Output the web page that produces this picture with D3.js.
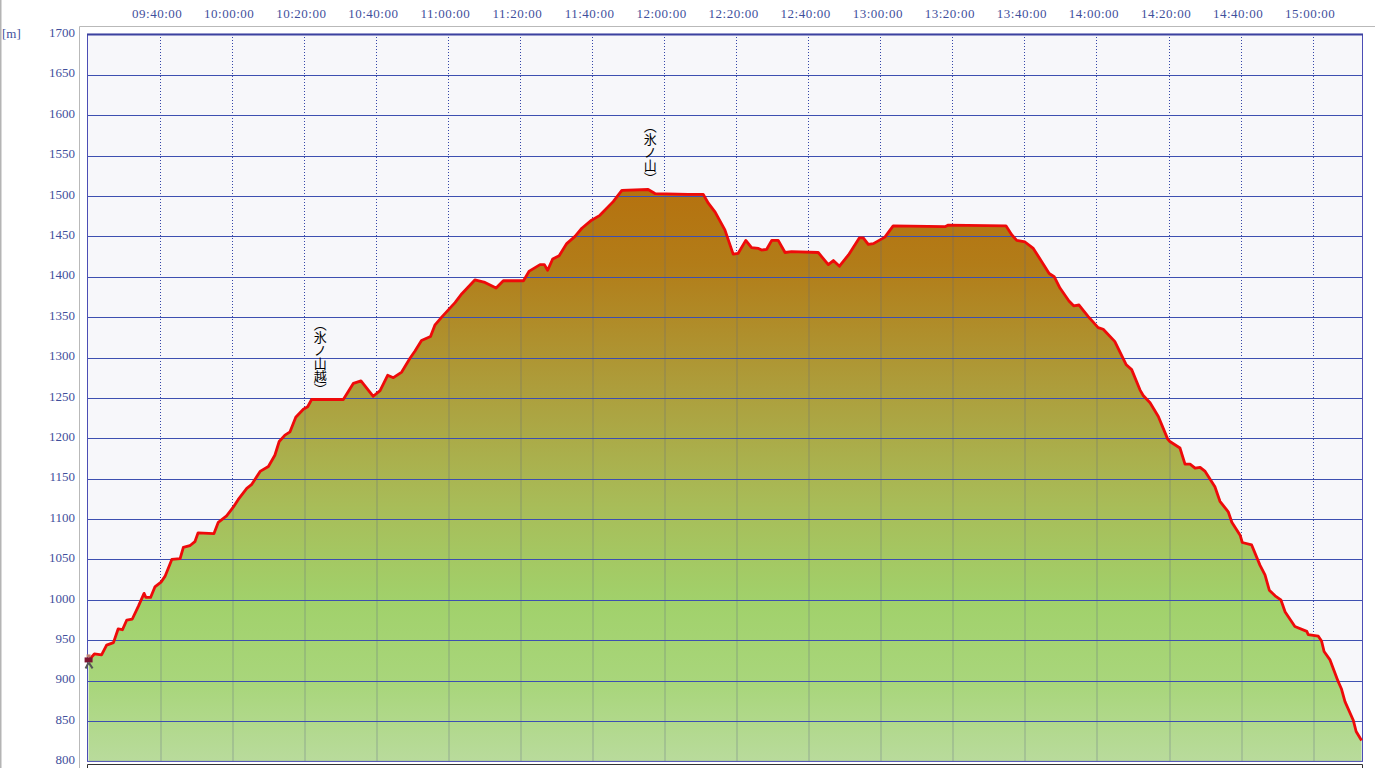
<!DOCTYPE html>
<html lang="ja">
<head>
<meta charset="utf-8">
<title>elevation profile</title>
<script src="https://cdn.jsdelivr.net/npm/d3@7"></script>
<style>
  html, body { margin: 0; padding: 0; background: #fff; overflow: hidden; }
  text { font-family: "Liberation Serif", serif; }
  .tick text, .unit { fill: #3f4f9c; font-family: "Liberation Serif", serif; font-size: 13px; }
  .xlabels .tick text { letter-spacing: 0.5px; }
  .peak { font-family: "Noto Sans CJK JP", sans-serif; font-size: 13px; fill: #000; writing-mode: vertical-rl; }
</style>
</head>
<body>
<div id="wrapper"></div>
<script>
// 1. data: minutes after 09:20:00 and metres
const minutes = [
  0, 1.6, 3.6, 5, 6.9, 8.2, 9.4, 10.6, 12.1, 13.8, 15.4, 15.9, 17.2, 18.4, 20.1, 21.2, 23.1, 25.4, 26.3, 28.1,
  29.5, 30.4, 34.8, 36, 38.3, 40.2, 41.5, 43.9, 45.3, 47.6, 49.9, 51.7, 52.9, 54.5, 55.9, 57.5, 59.6, 60.8, 61.9, 70.7,
  73.5, 75.6, 79, 80.9, 83, 84.6, 86.9, 89.2, 90.6, 92.4, 94.9, 96.1, 98, 101.7, 103.6, 107.2, 110, 113.1, 115.1, 120.7,
  122.3, 125.3, 126.5, 127.4, 128.8, 130.6, 132.7, 135, 136.9, 139.6, 141.9, 145.6, 148, 155.3, 157.2, 166.4, 170.6, 172, 173.9, 176.6,
  178.9, 180.3, 182.4, 184, 185.9, 186.8, 188.2, 189.6, 191.4, 193.3, 195.1, 202.5, 205.3, 206.7, 208.4, 210.9, 213.9, 215, 216.4, 217.8,
  221, 223.3, 237.7, 238.6, 254.6, 256.2, 257.6, 259.9, 262.2, 264.5, 266.6, 268, 269.6, 272.1, 273.4, 274.9, 277.4, 280.2, 281.6, 284.8,
  288, 289.5, 291.8, 292.7, 294.6, 296.9, 299.5, 300.1, 302.9, 304.3, 305.7, 307.1, 308.5, 309.9, 312.6, 314, 316.3, 317.3, 319.6, 320.2,
  322.8, 325.1, 326.5, 327.7, 329.3, 330.9, 332.1, 334.8, 338.1, 338.5, 341.3, 342.2, 342.9, 344.5, 346.8, 347.7, 348.7, 351, 351.8, 353.3
]
const elevation = [
  925, 933, 932, 944, 947, 964, 963, 975, 976, 992, 1008, 1003, 1003, 1016, 1022, 1029, 1050, 1051, 1065, 1067,
  1072, 1083, 1082, 1096, 1104, 1115, 1124, 1138, 1143, 1159, 1165, 1179, 1196, 1204, 1208, 1226, 1236, 1239, 1248, 1248,
  1268, 1271, 1252, 1259, 1278, 1275, 1282, 1299, 1308, 1321, 1326, 1340, 1350, 1368, 1379, 1396, 1393, 1386, 1395, 1395,
  1407, 1415, 1415, 1408, 1422, 1426, 1441, 1450, 1460, 1470, 1476, 1493, 1507, 1508, 1503, 1502, 1502, 1491, 1480, 1458,
  1428, 1429, 1445, 1436, 1435, 1433, 1434, 1445, 1445, 1430, 1431, 1430, 1415, 1420, 1413, 1427, 1448, 1448, 1440, 1441,
  1449, 1463, 1462, 1464, 1463, 1452, 1445, 1443, 1435, 1419, 1404, 1400, 1386, 1370, 1364, 1365, 1351, 1337, 1335, 1320,
  1291, 1285, 1260, 1253, 1244, 1227, 1199, 1196, 1188, 1168, 1168, 1163, 1164, 1159, 1140, 1122, 1109, 1096, 1080, 1071,
  1068, 1043, 1031, 1012, 1005, 1000, 985, 967, 961, 957, 955, 949, 936, 926, 899, 890, 874, 851, 837, 826
]
const timeTicks = ["09:40:00","10:00:00","10:20:00","10:40:00","11:00:00","11:20:00","11:40:00","12:00:00",
  "12:20:00","12:40:00","13:00:00","13:20:00","13:40:00","14:00:00","14:20:00","14:40:00","15:00:00"]
const heightTicks = [800,850,900,950,1000,1050,1100,1150,1200,1250,1300,1350,1400,1450,1500,1550,1600,1650,1700]
const peakNames = ["（氷ノ山越）", "（氷ノ山）"]
const peakMinutes = [64.3, 155.9]
const peakHeights = [1248, 1508]
const peakOffsets = [82, 70]

const points = minutes.map((m, i) => ({ m: m, h: elevation[i] }))
const sinceStart = t => {
  const p = t.split(":").map(Number)
  return (p[0] - 9) * 60 + p[1] - 20
}

// 2. dimensions
const width = 1389
const height = 768
const plot = { left: 87, right: 1363, top: 34.4, bottom: 761.4 }

const svg = d3.select("#wrapper").append("svg")
  .attr("width", width)
  .attr("height", height)
  .style("display", "block")

// 3. scales
const x = d3.scaleLinear().domain([-0.44, 353.7]).range([plot.left, plot.right])
const y = d3.scaleLinear().domain([800, 1700]).range([plot.bottom, plot.top])
const gridX = d => Math.round(x(sinceStart(d))) - 0.5

// window frame bits
svg.append("rect").attr("x", 0).attr("y", 0).attr("width", 1.5).attr("height", height).attr("fill", "#b4b4b4")
svg.append("path").attr("d", `M79.5,${height}V26.5H1375`).attr("fill", "none").attr("stroke", "#b9b9b9")
svg.append("rect").attr("x", plot.left).attr("y", plot.top).attr("width", plot.right - plot.left)
  .attr("height", plot.bottom - plot.top).attr("fill", "#f7f7fa")
svg.append("path").attr("d", `M87.5,${height}V764.5H1362.5V${height}`).attr("fill", "none").attr("stroke", "#333")

// 4. filled profile
const grad = svg.append("defs").append("linearGradient")
  .attr("id", "fill").attr("gradientUnits", "userSpaceOnUse")
  .attr("x1", 0).attr("x2", 0).attr("y1", y(1508)).attr("y2", plot.bottom)
const stops = [[0, "#b5720f"], [0.13, "#b27c18"], [0.35, "#ad9e3c"], [0.55, "#a8bc58"], [0.72, "#a1d16b"], [0.87, "#a9d67c"], [1, "#b9db9c"]]
stops.forEach(s => grad.append("stop").attr("offset", s[0]).attr("stop-color", s[1]))

const area = d3.area().x(d => x(d.m)).y0(plot.bottom).y1(d => y(d.h))
const sky = d3.area().x(d => x(d.m)).y0(plot.top).y1(d => y(d.h))
const line = d3.line().x(d => x(d.m)).y(d => y(d.h))

svg.append("path").datum(points).attr("d", area).attr("fill", "url(#fill)")

svg.append("clipPath").attr("id", "under").append("path").datum(points).attr("d", area)
svg.append("clipPath").attr("id", "over").append("path").datum(points).attr("d", sky)

// 5. grid: dotted over the background, a soft grey band inside the fill
const grid = svg.append("g").attr("shape-rendering", "crispEdges")
grid.selectAll(".shade").data(timeTicks).join("line")
  .attr("class", "shade")
  .attr("x1", gridX)
  .attr("x2", gridX)
  .attr("y1", plot.top).attr("y2", plot.bottom)
  .attr("clip-path", "url(#under)")
  .attr("stroke", "#5a6480").attr("stroke-width", 2).attr("stroke-opacity", 0.2)
grid.selectAll(".v").data(timeTicks).join("line")
  .attr("class", "v")
  .attr("x1", gridX)
  .attr("x2", gridX)
  .attr("y1", plot.top).attr("y2", plot.bottom)
  .attr("clip-path", "url(#over)")
  .attr("stroke", "#3546a8").attr("stroke-dasharray", "1,2")
grid.selectAll(".h").data(heightTicks.slice(1, -1)).join("line")
  .attr("class", "h")
  .attr("x1", plot.left).attr("x2", plot.right)
  .attr("y1", d => Math.round(y(d)) + 0.5)
  .attr("y2", d => Math.round(y(d)) + 0.5)
  .attr("stroke", "#3d4fb0")

svg.append("rect").attr("x", plot.left + 0.5).attr("y", plot.top).attr("width", plot.right - plot.left - 1)
  .attr("height", plot.bottom - plot.top).attr("fill", "none").attr("stroke", "#4b4db5")
svg.append("line").attr("x1", plot.left).attr("x2", plot.right).attr("y1", plot.top).attr("y2", plot.top)
  .attr("stroke", "#3c429f").attr("stroke-width", 2)

// 6. red track
svg.append("path").datum(points).attr("d", line)
  .attr("fill", "none").attr("stroke", "#ee0a0a").attr("stroke-width", 2.8).attr("stroke-linejoin", "round")

// 7. axes
const xAxis = d3.axisTop(x)
  .tickValues(timeTicks.map(sinceStart))
  .tickFormat((d, i) => timeTicks[i])
  .tickSize(0)
svg.append("g").attr("class", "xlabels").attr("transform", "translate(-4,21)").call(xAxis)
  .call(g => g.select(".domain").remove())

const yAxis = d3.axisLeft(y).tickValues(heightTicks).tickFormat(d3.format("d")).tickSize(0).tickPadding(0)
svg.append("g").attr("transform", "translate(75,-2)").call(yAxis)
  .call(g => g.select(".domain").remove())

svg.append("text").attr("class", "unit").attr("x", 2).attr("y", 38).text("[m]")

// 8. peak names
svg.selectAll(".peak").data(peakNames).join("text")
  .attr("class", "peak")
  .attr("x", (d, i) => x(peakMinutes[i]))
  .attr("y", (d, i) => y(peakHeights[i]) - peakOffsets[i])
  .text(d => d)

// 9. little walker at the start
const walker = svg.append("g").attr("transform", `translate(${x(points[0].m)},${y(points[0].h)})`)
walker.append("rect").attr("x", -2).attr("y", -6).attr("width", 4).attr("height", 3).attr("fill", "#c08070")
walker.append("rect").attr("x", -4).attr("y", -3).attr("width", 8).attr("height", 5).attr("fill", "#7e1430")
walker.append("path").attr("d", "M0,2L-3,8M0,2L4,8").attr("stroke", "#555").attr("stroke-width", 2).attr("fill", "none")
</script>
</body>
</html>
